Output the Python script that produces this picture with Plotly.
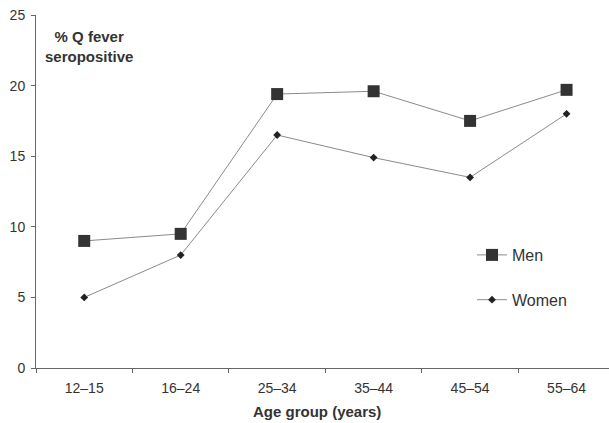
import plotly.graph_objects as go

age_groups = ["12–15", "16–24", "25–34", "35–44", "45–54", "55–64"]
men = [9.0, 9.5, 19.4, 19.6, 17.5, 19.7]
women = [5.0, 8.0, 16.5, 14.9, 13.5, 18.0]
y_ticks = [0, 5, 10, 15, 20, 25]

W, H = 609, 423
L, R, T, B = 36, 0, 15, 55
pw, ph = W - L - R, H - T - B

def px_x(x):
    return (x - L) / pw

def px_y(y):
    return (H - B - y) / ph

fig = go.Figure()
fig.add_trace(go.Scatter(
    x=age_groups, y=men, name="Men", mode="lines+markers",
    line=dict(color="#8a8a8a", width=1),
    marker=dict(symbol="square", size=12, color="#333333"),
    legendgroup="m",
))
fig.add_trace(go.Scatter(
    x=age_groups, y=women, name="Women", mode="lines+markers",
    line=dict(color="#8a8a8a", width=1),
    marker=dict(symbol="diamond", size=6, color="#222222"),
    legendgroup="w",
))

fig.update_layout(
    width=W, height=H,
    margin=dict(l=L, r=R, t=T, b=B, autoexpand=False),
    paper_bgcolor="white", plot_bgcolor="white",
    font=dict(family="Liberation Sans, Arial, sans-serif", color="#333333", size=14),
    legend=dict(
        x=px_x(472), y=px_y(238), xanchor="left", yanchor="top",
        font=dict(size=16, color="#333333"),
        tracegroupgap=21, bgcolor="rgba(0,0,0,0)",
    ),
    xaxis=dict(
        type="category", range=[-0.5, 5.44], automargin=False,
        showline=True, linecolor="#666666", linewidth=1,
        ticks="outside", tickson="boundaries", ticklen=4, tickcolor="#666666",
        showgrid=False, zeroline=False, ticklabelstandoff=7,
        tickfont=dict(size=14, color="#333333"),
    ),
    yaxis=dict(
        range=[0, 25], tickvals=y_ticks, automargin=False,
        showline=True, linecolor="#666666", linewidth=1,
        ticks="outside", ticklen=4, tickcolor="#666666",
        showgrid=False, zeroline=False, ticklabelstandoff=3,
        tickfont=dict(size=14, color="#333333"),
    ),
    annotations=[
        dict(text="<b>% Q fever<br>seropositive</b>", xref="paper", yref="paper",
             x=px_x(89), y=px_y(26), xanchor="center", yanchor="top",
             showarrow=False, font=dict(size=15, color="#333333"), align="center"),
        dict(text="<b>Age group (years)</b>", xref="paper", yref="paper",
             x=px_x(317), y=px_y(411), xanchor="center", yanchor="middle",
             showarrow=False, font=dict(size=15, color="#333333")),
    ],
)

fig.write_html("out.html", config={"displayModeBar": False},
               post_script="document.body.style.margin='0';")
